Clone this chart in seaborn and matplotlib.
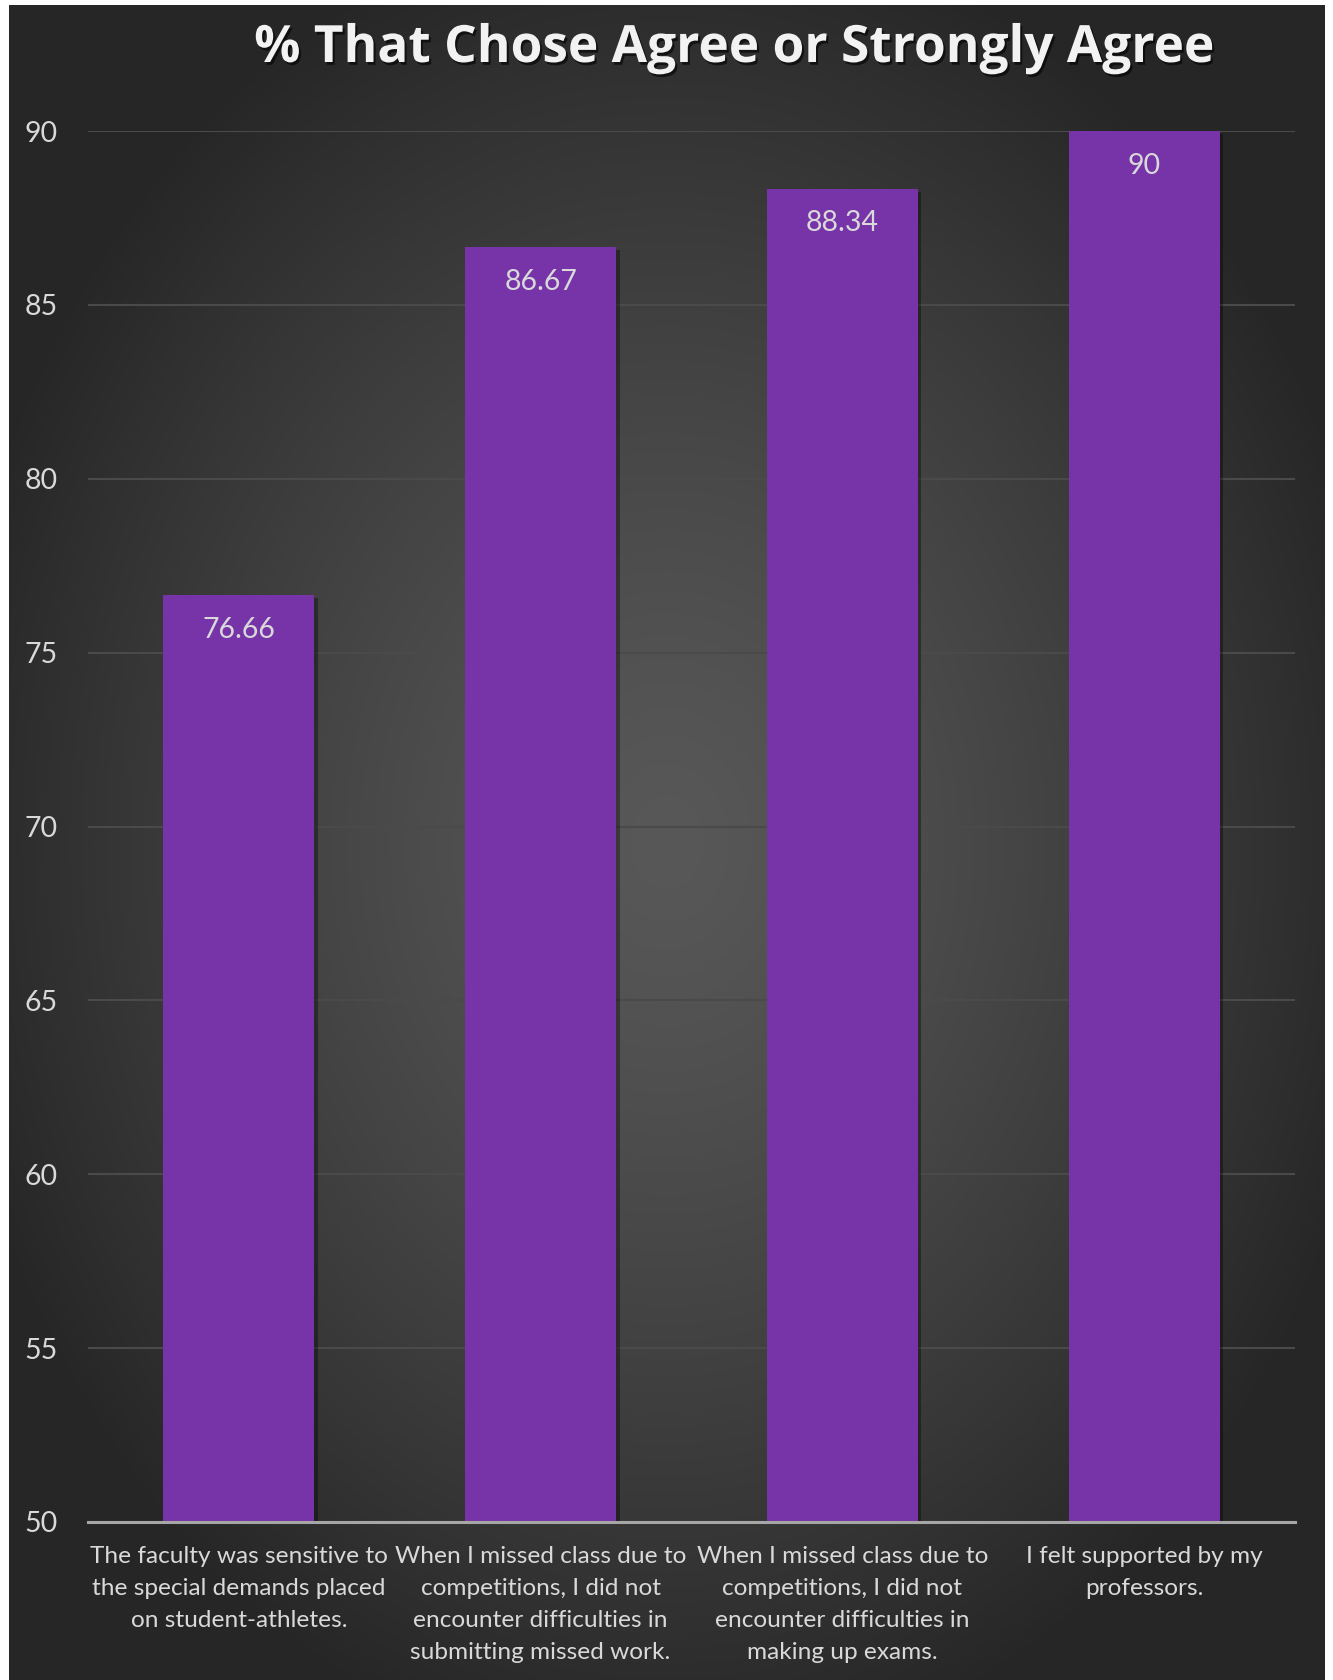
import numpy as np
import pandas as pd
import matplotlib
matplotlib.use("Agg")
import matplotlib.pyplot as plt
import matplotlib.patheffects as pe
import seaborn as sns

# Survey results
statements = [
    "The faculty was sensitive to\nthe special demands placed\non student-athletes.",
    "When I missed class due to\ncompetitions, I did not\nencounter difficulties in\nsubmitting missed work.",
    "When I missed class due to\ncompetitions, I did not\nencounter difficulties in\nmaking up exams.",
    "I felt supported by my\nprofessors.",
]
pct_agree = [76.66, 86.67, 88.34, 90]
value_labels = ["76.66", "86.67", "88.34", "90"]
y_ticks = [50, 55, 60, 65, 70, 75, 80, 85, 90]

sns.set_theme(style="dark")
plt.rcParams["font.family"] = ["Lato", "DejaVu Sans"]

W, H = 1333, 1680
fig = plt.figure(figsize=(W / 100, H / 100), dpi=100)
fig.patch.set_facecolor("white")

# Dark panel with a radial glow
bg = fig.add_axes([9 / W, 0, 1316 / W, 1675 / H], zorder=0)
nx, ny = 400, 500
xx, yy = np.meshgrid(np.linspace(-1, 1, nx), np.linspace(-1, 1, ny))
r = np.clip(np.sqrt(xx ** 2 + yy ** 2), 0, 1.12)
center_v = 0x58 / 255
drop = 43 / 255
shade = center_v - drop * r ** 1.3
img = np.repeat(shade[..., None], 3, axis=2)
bg.imshow(img, extent=[0, 1, 0, 1], aspect="auto", interpolation="bilinear")
bg.set_axis_off()

df = pd.DataFrame({"statement": statements, "pct": pct_agree})

ax = fig.add_axes([88 / W, 1 - 1522 / H, (1295 - 88) / W, (1522 - 131) / H], zorder=1)
ax.set_facecolor("none")
sns.barplot(data=df, x="statement", y="pct", color="#7733a8", saturation=1,
            width=0.5, ax=ax, zorder=3, edgecolor="none", linewidth=0)
for bar in ax.patches:
    bar.set_path_effects([pe.SimplePatchShadow(offset=(2.5, -2), shadow_rgbFace="black", alpha=0.35),
                          pe.Normal()])

ax.set_ylim(50, 90)
ax.set_yticks(y_ticks)
ax.set_xlim(-0.5, 3.5)
ax.grid(axis="y", color="#4a4a4a", linewidth=1.5, zorder=0)
ax.grid(axis="x", visible=False)
for s in ["top", "right", "left"]:
    ax.spines[s].set_visible(False)
ax.spines["bottom"].set_color("#a6a6a6")
ax.spines["bottom"].set_linewidth(2.2)
ax.spines["bottom"].set_zorder(4)
ax.set_xlabel("")
ax.set_ylabel("")
ax.tick_params(axis="y", length=0, pad=22, labelsize=20.5, labelcolor="#d9d9d9")
ax.tick_params(axis="x", length=0, pad=17.5, labelsize=17.6, labelcolor="#d9d9d9")
for lab in ax.get_xticklabels():
    lab.set_linespacing(1.65)
    lab.set_horizontalalignment("center")

for i, (v, t) in enumerate(zip(pct_agree, value_labels)):
    ax.annotate(t, (i, v), xytext=(0, -25), textcoords="offset points",
                ha="center", va="center", fontsize=20.5, color="#d9d9d9", zorder=5)

fig.text(734 / W, 1 - 49 / H, "% That Chose Agree or Strongly Agree",
         ha="center", va="center", fontsize=37, fontweight="bold", color="#f2f2f2",
         family=["Open Sans", "DejaVu Sans"],
         path_effects=[pe.withSimplePatchShadow(offset=(1.5, -2), shadow_rgbFace="black", alpha=0.6)])

fig.savefig("out.png", dpi=100, facecolor=fig.get_facecolor())
